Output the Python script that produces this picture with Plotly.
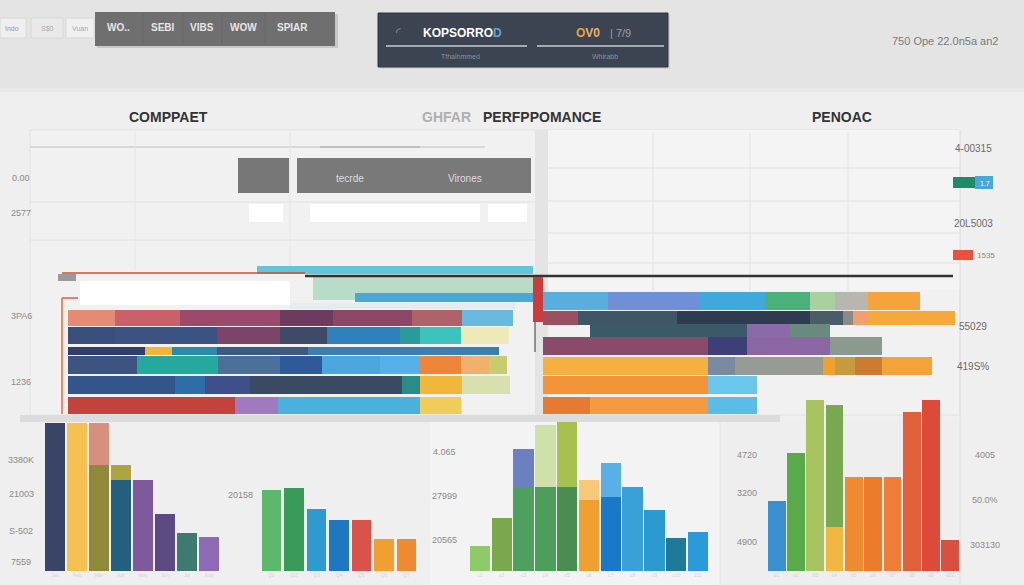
import plotly.graph_objects as go
import numpy as np

W, H = 1024, 585
FONT = "Liberation Sans, Arial, sans-serif"

# ---------------- DATA ----------------
# upper-left stacked rows (segment lengths, % of panel width)
left_rows = ["r1", "r2", "r3", "r4", "r5", "r6"]
left_seg = [
    [10.1, 14.0, 21.5, 11.4, 17.0, 10.8, 10.8],
    [10.1, 21.9, 13.5, 10.3, 15.5, 4.3, 9.0, 10.3],
    [16.6, 5.8, 9.7, 19.6, 40.9],
    [14.8, 17.4, 13.3, 9.2, 12.3, 8.6, 9.0, 6.0, 3.9],
    [23.0, 6.5, 9.7, 32.7, 3.9, 9.0, 10.3],
    [35.9, 9.2, 30.5, 9.0],
]
left_col = [
    ["#e58a73", "#c9606a", "#9a4a6a", "#6e3a5e", "#8c4766", "#b0626a", "#6ab8e0"],
    ["#3a4f7c", "#3c5283", "#7c4466", "#3f4b66", "#2f7fba", "#2a9a9a", "#3cc3bb", "#eeeab8"],
    ["#2f3f6a", "#f2b53a", "#2a8aa8", "#3d5a80", "#3a7fb0"],
    ["#3e5480", "#25a89e", "#4a6f98", "#2f5a9a", "#4aa6dd", "#55b0e8", "#ee8438", "#f0b070", "#c8cc70"],
    ["#34558c", "#2d6ea8", "#3e4e88", "#3a4a62", "#2a8c88", "#f0b83a", "#d8e0b0"],
    ["#c2433c", "#a07ac0", "#4ab0dc", "#f0cc5a"],
]

# upper-left thin strips (start, length)
strip_rows = ["t1", "t2", "t3", "t4"]
strip_start = [40.6, 52.7, 61.7, 47.7]
strip_len = [59.4, 47.3, 38.3, 48.6]
strip_col = ["#62c6da", "#b8dcc8", "#4aa8d8", "#e4ecee"]

# upper-right stacked rows (start offset, segment lengths)
right_rows = ["s1", "s2", "s3", "s4", "s5", "s6", "s7"]
right_start = [0, 0, 11.4, 0, 0, 0, 0]
right_seg = [
    [15.8, 22.3, 15.8, 10.9, 6.1, 8.0, 12.6],
    [8.5, 24.0, 32.3, 8.0, 2.4, 3.6, 21.1],
    [38.1, 10.4, 9.7],
    [40.0, 9.5, 20.1, 12.6],
    [40.0, 6.6, 21.4, 2.9, 4.9, 6.6, 12.1],
    [40.0, 11.9],
    [11.4, 28.6, 11.9],
]
right_col = [
    ["#5aaede", "#6f8fd8", "#3fa8dc", "#4cb07a", "#a8d0a0", "#b8b6ae", "#f4a43a"],
    ["#9a5060", "#3f5666", "#2f3c50", "#4a5c66", "#8a8a86", "#f0a070", "#f4a93a"],
    ["#3a5a6a", "#8a6aa8", "#6a8a80"],
    ["#8a4a6a", "#3e3e78", "#8a66a2", "#8a9a8e"],
    ["#f4b040", "#7a8aa0", "#969c94", "#f0a030", "#c89a40", "#cc7c30", "#f4a23a"],
    ["#f29438", "#6cc6ec"],
    ["#e57a34", "#f49a40", "#5cbce8"],
]

# bottom column charts
a_cats = ["Jan", "Feb", "Mar", "Apr", "May", "Jun", "Jul", "Aug"]
a_back = [4110, 4110, 4110, 2940, 2530, 1580, 1060, 940]
a_front = [None, None, 2940, 2530, None, None, None, None]
a_back_col = ["#3a4466", "#f4c050", "#d8907e", "#aea43e", "#7e5a9c", "#5c4a82", "#3e7a70", "#8c6ab4"]
a_front_col = ["#000", "#000", "#8e8a3a", "#24607e", "#000", "#000", "#000", "#000"]

b_cats = ["Q1", "Q2", "Q3", "Q4", "Q5", "Q6", "Q7"]
b_vals = [2250, 2310, 1720, 1420, 1420, 890, 890]
b_col = ["#5cb86a", "#3a9a58", "#2e9ad0", "#1e78c0", "#d9534a", "#f0a030", "#f08a30"]

c_cats = ["c1", "c2", "c3", "c4", "c5", "c6", "c7", "c8", "c9", "c10", "c11"]
c_back = [690, 1470, 3390, 4060, 4140, 2530, 3000, 2330, 1690, 920, 1080]
c_front = [None, None, 2330, 2330, 2330, 1970, 2060, None, None, None, None]
c_back_col = ["#8cca6a", "#7aa84c", "#6a80c0", "#cfe0a8", "#a8c050", "#f8c878", "#5ab0e6",
              "#3aa0d8", "#2a9ad0", "#1e7a98", "#2a9ad8"]
c_front_col = ["#000", "#000", "#4ea05e", "#4c9e5a", "#4a8c52", "#f0a030", "#1a78c8",
               "#000", "#000", "#000", "#000"]

d_cats = ["d1", "d2", "d3", "d4", "d5", "d6", "d7", "d8", "d9", "d10"]
d_back = [1940, 3280, 4750, 4610, 2610, 2610, 2610, 4420, 4750, 860]
d_front = [None, None, None, 1220, None, None, None, None, None, None]
d_back_col = ["#3a8fd0", "#5aaa4a", "#a8c460", "#78a850", "#f08a30", "#ec7c2c", "#ee7e38",
              "#e0603a", "#dc4a3a", "#d85040"]
d_front_col = ["#000", "#000", "#000", "#f0b840"] + ["#000"] * 6

# tick / label texts
left_labels = ["0.00", "2577", "3PA6", "1236"]
right_labels = ["4-00315", "20L5003", "55029", "419S%"]
a_labels = ["3380K", "21003", "S-502", "7559"]
c_labels = ["4.065", "27999", "20565"]
d_left_labels = ["4720", "3200", "4900"]
d_right_labels = ["4005", "50.0%", "303130"]

# ---------------- helpers ----------------
def px(x):
    return x / W


def py(y):
    return 1 - y / H


shapes = []
annots = []


def rect(x0, y0, x1, y1, fill, line=None, layer="below", lw=1):
    shapes.append(dict(type="rect", xref="paper", yref="paper",
                       x0=px(x0), x1=px(x1), y0=py(y1), y1=py(y0),
                       fillcolor=fill, layer=layer,
                       line=dict(width=lw if line else 0, color=line or "rgba(0,0,0,0)")))


def hline(x0, x1, y, color, w=1, layer="below"):
    shapes.append(dict(type="line", xref="paper", yref="paper", x0=px(x0), x1=px(x1),
                       y0=py(y), y1=py(y), line=dict(color=color, width=w), layer=layer))


def vline(x, y0, y1, color, w=1, layer="below"):
    shapes.append(dict(type="line", xref="paper", yref="paper", x0=px(x), x1=px(x),
                       y0=py(y0), y1=py(y1), line=dict(color=color, width=w), layer=layer))


def text(s, x, y, size=10, color="#888", bold=False, anchor="center"):
    annots.append(dict(text=("<b>%s</b>" % s) if bold else s, x=px(x), y=py(y),
                       xref="paper", yref="paper", showarrow=False, xanchor=anchor,
                       yanchor="middle", font=dict(family=FONT, size=size, color=color)))


# ---------------- background ----------------
rect(0, 0, 1024, 88, "#e4e4e4")
rect(0, 88, 1024, 585, "#efefef")
rect(0, 88, 1024, 92, "#e8e8e8")
rect(30, 130, 960, 415, "#f1f1f1", line="#e2e2e2")
rect(540, 130, 960, 290, "#f4f4f4")
rect(535, 130, 548, 415, "#e4e4e4")
rect(430, 420, 720, 585, "#f3f3f3")
rect(725, 420, 960, 585, "#eeeeee")
vline(960, 130, 585, "#e0e0e0")
vline(720, 420, 585, "#e6e6e6")

# grid upper
for yy in [168, 201, 233, 263]:
    hline(548, 960, yy, "#e0e0e0")
for xx in [653, 750, 848]:
    vline(xx, 133, 290, "#e4e4e4")
hline(30, 485, 147, "#cfcfcf", 1.5)
hline(320, 420, 147, "#b8b8b8", 1.5)
for yy in [202, 240]:
    hline(30, 535, yy, "#e2e2e2")
vline(135, 132, 270, "#e6e6e6")
vline(290, 132, 270, "#e6e6e6")

# top bar widgets
rect(0, 18, 26, 38, "#efefef", line="#d8d8d8")
rect(31, 18, 63, 38, "#e9e9e9", line="#d8d8d8")
rect(66, 18, 94, 38, "#f0f0f0", line="#d8d8d8")
rect(97, 14, 338, 48, "#c8c8c8")
rect(95, 12, 335, 46, "#6f6f6f")
for xx in [143, 183, 222, 265]:
    vline(xx, 14, 44, "#666666")
text("Indo", 12, 28, 7, "#999")
text("S$0", 47, 28, 7, "#aaa")
text("Vuan", 80, 28, 7, "#aaa")
for s, xx in [("WO..", 118), ("SEBI", 163), ("VIBS", 202), ("WOW", 243), ("SPIAR", 292)]:
    text(s, xx, 27, 10, "#e6e6e6", bold=True)

rect(380, 15, 670, 69, "#d4d4d4")
rect(378, 13, 668, 67, "#3b4450", line="#30363f")
hline(386, 527, 46, "#c9cdd2", 1.5, layer="above")
hline(537, 664, 46, "#c9cdd2", 1.5, layer="above")
text("KOPSORRO<span style='color:#5aa8d8'>D</span>", 462, 33, 12, "#ffffff", bold=True)
text("O<span style='color:#e8b070'>V0</span>", 588, 33, 12, "#f0a030", bold=True)
text("| 7/9", 620, 33, 11, "#9aa0a8")
text("Tfhalnmmed", 460, 57, 7, "#8a929c")
text("Whirabb", 605, 57, 7, "#8a929c")
text("◜", 398, 32, 12, "#9aa0a8")

text("750 Ope 22.0n5a an2", 945, 41, 11, "#7a7a7a")

# titles
text("COMPPAET", 168, 117, 14, "#333", bold=True)
text("GHFAR", 446, 117, 14, "#b0b0b0", bold=True)
text("PERFPPOMANCE", 542, 117, 14, "#333", bold=True)
text("PENOAC", 842, 117, 14, "#333", bold=True)

# gray boxes & white fields
rect(238, 158, 289, 193, "#777777")
rect(297, 158, 531, 193, "#797979")
text("tecrde", 350, 178, 10, "#dddddd")
text("Virones", 465, 178, 10, "#dddddd")
rect(249, 204, 283, 222, "#ffffff")
rect(310, 204, 480, 222, "#ffffff")
rect(488, 204, 527, 222, "#ffffff")

# labels
for s, yy in zip(left_labels, [178, 213, 316, 382]):
    text(s, 21, yy, 9, "#8a8a8a")
for s, yy in zip(right_labels, [148, 223, 326, 366]):
    text(s, 973, yy, 10, "#6a6a6a")
rect(953, 177, 975, 188, "#1f8a6a", layer="above")
rect(975, 176, 993, 189, "#4aa8d8", layer="above")
text("1.7", 985, 183, 7, "#eaf6ff")
rect(953, 250, 973, 260, "#e8523a", layer="above")
text("1535", 986, 255, 8, "#888")
for s, yy in zip(a_labels, [460, 494, 531, 562]):
    text(s, 21, yy, 9, "#8a8a8a")
text("20158", 240, 495, 9, "#8a8a8a")
for s, yy in zip(c_labels, [452, 496, 540]):
    text(s, 444, yy, 9, "#8a8a8a")
for s, yy in zip(d_left_labels, [455, 493, 542]):
    text(s, 747, yy, 9, "#8a8a8a")
for s, yy in zip(d_right_labels, [455, 500, 545]):
    text(s, 985, yy, 9, "#8a8a8a")

# decorations near stacked area
rect(80, 281, 290, 305, "#ffffff")
rect(20, 415, 780, 422, "#dcdcdc")
hline(62, 305, 273, "#d04a3a", 1.5, layer="above")
rect(58, 274, 76, 281, "#9a9a9a", layer="above")
vline(62, 298, 414, "#f08a60", 2, layer="above")
hline(62, 78, 298, "#e05a40", 1.5, layer="above")
hline(305, 953, 276, "#333333", 2.5, layer="above")
vline(535, 277, 352, "#555555", 1.2, layer="above")
rect(533, 277, 543, 322, "#cc3c3c", layer="above")

# ---------------- traces ----------------
fig = go.Figure()

# left strips
strip_w = [0.7, 2.0, 0.75, 0.5]
strip_off = [-0.35, -0.5, -0.1, -0.25]
for i, r in enumerate(strip_rows):
    fig.add_trace(go.Bar(y=[r], x=[strip_len[i]], base=[strip_start[i]], orientation="h",
                         marker=dict(color=strip_col[i], line=dict(width=0)),
                         width=strip_w[i], offset=strip_off[i], xaxis="x2", yaxis="y2"))

# left main rows
left_w = [0.92, 0.98, 0.45, 1.0, 1.0, 1.0]
left_adj = [0.0, 0.0, -0.1, -0.3, -0.16, 0.0]
for i, r in enumerate(left_rows):
    seg = np.array(left_seg[i])
    starts = np.concatenate([[0], np.cumsum(seg)[:-1]])
    fig.add_trace(go.Bar(y=[r] * len(seg), x=seg, base=starts, orientation="h",
                         marker=dict(color=left_col[i], line=dict(width=0)),
                         width=left_w[i], offset=-left_w[i] / 2 + left_adj[i],
                         xaxis="x", yaxis="y"))

# right rows
right_w = [1.05, 0.8, 0.7, 1.0, 1.05, 1.0, 1.0]
right_adj = [0.0, 0.0, -0.29, -0.4, -0.26, -0.17, 0.0]
for i, r in enumerate(right_rows):
    seg = np.array(right_seg[i])
    starts = right_start[i] + np.concatenate([[0], np.cumsum(seg)[:-1]])
    fig.add_trace(go.Bar(y=[r] * len(seg), x=seg, base=starts, orientation="h",
                         marker=dict(color=right_col[i], line=dict(width=0)),
                         width=right_w[i], offset=-right_w[i] / 2 + right_adj[i],
                         xaxis="x3", yaxis="y3"))


def column(cats, back, front, bcol, fcol, ax, width):
    fig.add_trace(go.Bar(x=cats, y=back, marker=dict(color=bcol, line=dict(width=0)),
                         width=width, xaxis="x" + ax, yaxis="y" + ax))
    if front is not None:
        fig.add_trace(go.Bar(x=cats, y=front, marker=dict(color=fcol, line=dict(width=0)),
                             width=width, xaxis="x" + ax, yaxis="y" + ax))


column(a_cats, a_back, a_front, a_back_col, a_front_col, "4", 0.95)
column(b_cats, b_vals, None, b_col, None, "5", 0.86)
column(c_cats, c_back, c_front, c_back_col, c_front_col, "6", 0.93)
column(d_cats, d_back, d_front, d_back_col, d_front_col, "7", 0.92)

# ---------------- layout ----------------
def xdom(a, b):
    return [px(a), px(b)]


def ydom(top, bottom):
    return [py(bottom), py(top)]


hidden = dict(visible=False, fixedrange=True)
cat_x = dict(visible=True, showgrid=False, zeroline=False, showline=False, ticks="",
             tickfont=dict(size=5, color="#d6d6d6", family=FONT), fixedrange=True)

layout = dict(
    width=W, height=H, margin=dict(l=0, r=0, t=0, b=0),
    paper_bgcolor="#efefef", plot_bgcolor="rgba(0,0,0,0)",
    barmode="overlay", showlegend=False, bargap=0,
    shapes=shapes, annotations=annots,
    xaxis=dict(domain=xdom(68, 533), range=[0, 100], anchor="y", **hidden),
    yaxis=dict(domain=ydom(309, 414), type="category", categoryorder="array",
               categoryarray=left_rows, range=[5.5, -0.5], anchor="x", **hidden),
    xaxis2=dict(domain=xdom(68, 533), range=[0, 100], anchor="y2", **hidden),
    yaxis2=dict(domain=ydom(264, 312), type="category", categoryorder="array",
                categoryarray=strip_rows, range=[3.5, -0.5], anchor="x2", **hidden),
    xaxis3=dict(domain=xdom(543, 955), range=[0, 100], anchor="y3", **hidden),
    yaxis3=dict(domain=ydom(292, 414), type="category", categoryorder="array",
                categoryarray=right_rows, range=[6.5, -0.5], anchor="x3", **hidden),
    xaxis4=dict(domain=xdom(44, 220), anchor="y4", **cat_x),
    yaxis4=dict(domain=ydom(391, 571), range=[0, 5000], anchor="x4", **hidden),
    xaxis5=dict(domain=xdom(260, 418), anchor="y5", **cat_x),
    yaxis5=dict(domain=ydom(391, 571), range=[0, 5000], anchor="x5", **hidden),
    xaxis6=dict(domain=xdom(469, 709), anchor="y6", **cat_x),
    yaxis6=dict(domain=ydom(391, 571), range=[0, 5000], anchor="x6", **hidden),
    xaxis7=dict(domain=xdom(767, 960), anchor="y7", **cat_x),
    yaxis7=dict(domain=ydom(391, 571), range=[0, 5000], anchor="x7", **hidden),
)
fig.update_layout(**layout)
fig.update_traces(hoverinfo="skip")
fig.write_html("out.html")
